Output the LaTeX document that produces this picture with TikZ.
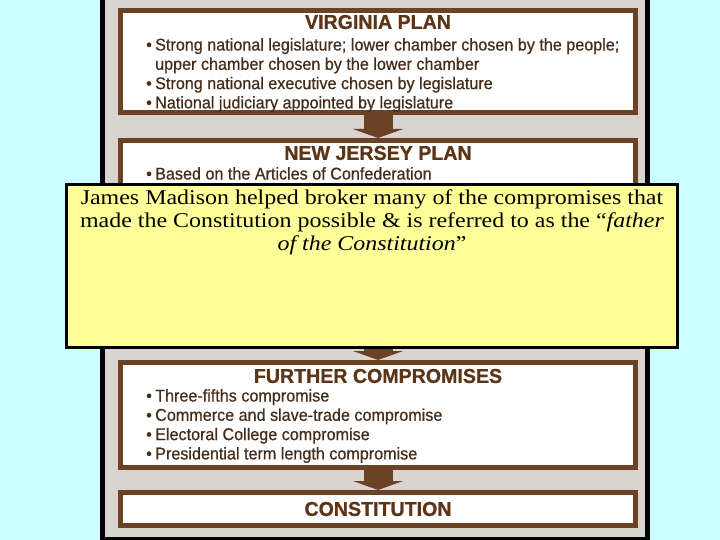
\documentclass[tikz,border=0pt]{standalone}
\usepackage{fontspec}
\usepackage{xcolor}
\usepackage{tikz}
\usetikzlibrary{arrows.meta}
\setmainfont{Liberation Serif}
\newfontfamily\notefont[FakeStretch=1.14]{Liberation Serif}
\newfontfamily\chartfont[FakeStretch=0.95,FakeBold=0.6]{Liberation Sans}
\newfontfamily\charttitle[FakeStretch=0.98,FakeBold=0.8]{Liberation Sans Bold}
\definecolor{skyback}{RGB}{204,255,255}
\definecolor{panelgray}{RGB}{216,212,208}
\definecolor{boxbrown}{RGB}{107,66,38}
\definecolor{titlebrown}{RGB}{92,52,22}
\definecolor{textbrown}{RGB}{68,44,26}
\definecolor{noteyellow}{RGB}{255,255,153}
\tikzstyle{planbox}=[draw=boxbrown,line width=5pt,fill=white,minimum width=515pt,inner sep=0pt]
\tikzstyle{plantitle}=[text=titlebrown,font=\charttitle\fontsize{20}{22}\selectfont,inner sep=0pt]
\tikzstyle{planlist}=[anchor=north west,text=textbrown,align=left,inner sep=0pt,
  font=\chartfont\fontsize{17}{19.3}\selectfont]
\tikzstyle{flowarrow}=[draw=boxbrown,line width=29pt,-{Triangle[length=9pt,width=50pt]}]
\tikzstyle{notebox}=[draw=black,line width=3pt,fill=noteyellow,minimum width=611pt,minimum height=163pt]
\newcommand{\bul}[1]{\makebox[9pt][l]{\textbullet}#1}

\begin{document}
\begin{tikzpicture}[x=1pt,y=-1pt]
  \fill[skyback] (0,0) rectangle (720,540);
  \fill[black] (100,0) rectangle (650,540);
  \fill[panelgray] (105,0) rectangle (645,537);

  % the plan boxes
  \node[planbox,minimum height=102pt] (vp) at (378,61.5) {};
  \node[planbox,minimum height=197pt] (nj) at (378,239) {};
  \node[planbox,minimum height=105pt] (fc) at (378,415) {};
  \node[planbox,minimum height=33pt] (cn) at (378,509) {};

  \draw[flowarrow] (vp.south) -- (nj.north);
  \draw[flowarrow] (nj.south) -- (fc.north);
  \draw[flowarrow] (fc.south) -- (cn.north);

  \node[plantitle] (vptitle) at ([yshift=-14pt]vp.north) {VIRGINIA PLAN};
  \node[planlist] (vplist) at ([xshift=28pt,yshift=-30pt]vp.north west)
    {\bul{Strong national legislature; lower chamber chosen by the people;}\\
     \hspace*{9pt}upper chamber chosen by the lower chamber\\
     \bul{Strong national executive chosen by legislature}\\
     \bul{National judiciary appointed by legislature}};

  \node[plantitle] (njtitle) at ([yshift=-15pt]nj.north) {NEW JERSEY PLAN};
  \node[planlist] (njlist) at ([xshift=28pt,yshift=-29pt]nj.north west)
    {\bul{Based on the Articles of Confederation}};

  \node[plantitle] (fctitle) at ([yshift=-16pt]fc.north) {FURTHER COMPROMISES};
  \node[planlist] (fclist) at ([xshift=28pt,yshift=-29pt]fc.north west)
    {\bul{Three-fifths compromise}\\
     \bul{Commerce and slave-trade compromise}\\
     \bul{Electoral College compromise}\\
     \bul{Presidential term length compromise}};

  \node[plantitle] (cntitle) at (cn) {CONSTITUTION};

  % the note laid over the chart
  \node[notebox] (note) at (372,266) {};
  \node[anchor=north,align=center,inner sep=0pt,font=\notefont\fontsize{21}{23}\selectfont]
    (notetext) at ([yshift=-7pt]note.north)
    {James Madison helped broker many of the compromises that\\
     made the Constitution possible \& is referred to as the “\textit{father}\\
     \textit{of the Constitution}”};
\end{tikzpicture}
\end{document}
